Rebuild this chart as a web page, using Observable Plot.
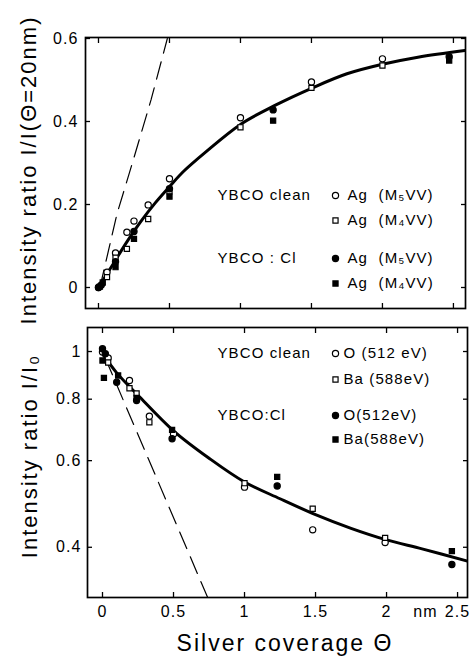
<!DOCTYPE html>
<html><head><meta charset="utf-8">
<script src="https://cdn.jsdelivr.net/npm/d3@7"></script>
<script src="https://cdn.jsdelivr.net/npm/@observablehq/plot@0.6"></script>
<style>
html,body{margin:0;padding:0;background:#fff;}
#chart{position:relative;width:470px;height:656px;font-family:"Liberation Sans",Arial,sans-serif;color:#000;background:#fff;overflow:hidden;}
#chart svg{position:absolute;left:0;overflow:visible;}
#chart svg text{letter-spacing:1.1px;}
.lab{position:absolute;white-space:nowrap;font-size:22px;letter-spacing:2px;line-height:1;transform:translate(-50%,-50%) rotate(-90deg);}
.xlab{position:absolute;white-space:nowrap;font-size:23px;letter-spacing:2px;line-height:1;transform:translate(-50%,-50%);}
</style></head><body><div id="chart"></div>
<script>
// ---- tick values ----
const xTicks = [0, 0.5, 1, 1.5, 2, 2.5];
const topYTicks = [0, 0.2, 0.4, 0.6];
const botYTicks = [0.4, 0.6, 0.8, 1];
const xUnit = ["nm"];

// ---- top panel: Ag Auger intensity ratio I/I(θ=20nm) ----
const agCleanM5 = [[0,0],[0.06,0.037],[0.12,0.083],[0.2,0.133],[0.25,0.16],[0.35,0.199],[0.5,0.262],[1.0,0.409],[1.5,0.495],[2.0,0.551]];
const agCleanM4 = [[0.06,0.025],[0.12,0.072],[0.2,0.093],[0.35,0.165],[0.5,0.232],[1.0,0.386],[1.5,0.481],[2.0,0.535]];
const agClM5 = [[0,0],[0.02,0.006],[0.12,0.062],[0.25,0.135],[0.5,0.238],[1.23,0.428],[2.47,0.556]];
const agClM4 = [[0.01,0.002],[0.03,0.012],[0.12,0.049],[0.25,0.117],[0.5,0.219],[1.23,0.402],[2.47,0.547]];
const agFit = [[0,0],[0.1,0.055],[0.2,0.11],[0.3,0.16],[0.4,0.204],[0.5,0.243],[0.6,0.28],[0.75,0.325],[1.0,0.393],[1.25,0.44],[1.5,0.48],[1.75,0.515],[2.0,0.538],[2.25,0.555],[2.58,0.571]];
const agDashed = [[0.01,0],[0.13,0.177],[0.25,0.313],[0.37,0.452],[0.485,0.6]];
const topGroups = ["YBCO clean", "YBCO : Cl"];
const topLabels = ["Ag  (M₅VV)", "Ag  (M₄VV)", "Ag  (M₅VV)", "Ag  (M₄VV)"];

// ---- bottom panel: substrate intensity ratio I/I0 ----
const oClean = [[0,0.998],[0.04,0.97],[0.19,0.873],[0.33,0.739],[0.5,0.68],[1.0,0.53],[1.48,0.434],[1.99,0.409]];
const baClean = [[0.04,0.95],[0.19,0.842],[0.24,0.822],[0.33,0.718],[1.0,0.54],[1.48,0.479],[1.99,0.418]];
const oCl = [[0,1.013],[0.02,0.99],[0.1,0.866],[0.24,0.795],[0.49,0.665],[1.23,0.533],[2.46,0.369]];
const baCl = [[0,0.959],[0.01,0.884],[0.11,0.894],[0.24,0.805],[0.49,0.693],[1.23,0.556],[2.46,0.393]];
const subFit = [[0,0.99],[0.1,0.905],[0.25,0.815],[0.5,0.69],[0.75,0.607],[1.0,0.543],[1.25,0.502],[1.5,0.466],[1.75,0.437],[2.0,0.414],[2.25,0.397],[2.57,0.375]];
const subDashed = [[0.02,0.969],[0.741,0.316]];
const botGroups = ["YBCO clean", "YBCO:Cl"];
const botLabels = ["O (512 eV)", "Ba (588eV)", "O(512eV)", "Ba(588eV)"];

const symbols = ["circle", "square", "circle", "square"];
const filled = [false, false, true, true];

const chart = document.getElementById("chart");

function pts(data, i) {
  return Plot.dot(data, {x: d => d[0], y: d => d[1], symbol: symbols[i], r: symbols[i] === "square" ? 2.9 : 3.1,
    fill: filled[i] ? "black" : "white", stroke: "black", strokeWidth: 1.2});
}
function frameAxes(yTicks, tickPad) {
  const fmt = d => String(d);
  return [
    Plot.axisX(xTicks, {anchor: "bottom", tickSize: -5, fill: "none", strokeWidth: 1.3, label: null}),
    Plot.axisX(xTicks, {anchor: "top", tickSize: -5, fill: "none", strokeWidth: 1.3, label: null}),
    Plot.axisY(yTicks, {anchor: "left", tickSize: -5, fill: "none", strokeWidth: 1.3, label: null}),
    Plot.axisY(yTicks, {anchor: "right", tickSize: -5, fill: "none", strokeWidth: 1.3, label: null}),
    Plot.axisY(yTicks, {anchor: "left", tickSize: 0, tickPadding: tickPad, tickFormat: fmt, fontSize: 16, label: null}),
    Plot.frame({stroke: "black", strokeWidth: 1.7})
  ];
}
function legend(groups, labels, rowDy, groupDx, symDx, textDx) {
  const marks = [];
  groups.forEach((g, k) => marks.push(Plot.text([g], {text: d => d, frameAnchor: "top-left", dx: groupDx, dy: rowDy[k * 2], textAnchor: "start", lineAnchor: "middle", fontSize: 15})));
  labels.forEach((t, i) => {
    marks.push(Plot.dot([t], {frameAnchor: "top-left", dx: symDx, dy: rowDy[i], symbol: symbols[i], r: symbols[i] === "square" ? 2.9 : 3.1,
      fill: filled[i] ? "black" : "white", stroke: "black", strokeWidth: 1.2}));
    marks.push(Plot.text([t], {text: d => d, frameAnchor: "top-left", dx: textDx, dy: rowDy[i], textAnchor: "start", lineAnchor: "middle", fontSize: 15}));
  });
  return marks;
}

const style = {fontFamily: "'Liberation Sans', Arial, sans-serif", fontSize: "16px", color: "black", background: "transparent", overflow: "visible"};

const topPlot = Plot.plot({
  width: 470, height: 320,
  marginLeft: 85, marginRight: 5, marginTop: 37, marginBottom: 12,
  style,
  x: {domain: [-0.0915, 2.585], axis: null},
  y: {domain: [-0.0506, 0.6024], axis: null},
  marks: [
    ...frameAxes(topYTicks, 7),
    Plot.line(agDashed, {x: d => d[0], y: d => d[1], stroke: "black", strokeWidth: 1.2, strokeDasharray: "18,9", clip: true}),
    Plot.line(agFit, {x: d => d[0], y: d => d[1], stroke: "black", strokeWidth: 3, curve: "catmull-rom", clip: true}),
    pts(agCleanM5, 0), pts(agCleanM4, 1), pts(agClM5, 2), pts(agClM4, 3),
    ...legend(topGroups, topLabels, [158, 183, 221, 246], 132, 250, 262)
  ]
});
topPlot.style.top = "0px";
chart.appendChild(topPlot);

const botPlot = Plot.plot({
  width: 470, height: 336,
  marginLeft: 87, marginRight: 3, marginTop: 7, marginBottom: 59,
  style,
  x: {domain: [-0.1056, 2.570], axis: null},
  y: {type: "log", domain: [0.3162, 1.119], axis: null},
  marks: [
    ...frameAxes(botYTicks, 6),
    Plot.axisX(xTicks, {anchor: "bottom", tickSize: 0, tickPadding: 8, tickFormat: d => String(d), fontSize: 16, label: null}),
    Plot.text(xUnit, {text: d => d, x: () => 2.5, frameAnchor: "bottom", dx: -32, dy: 8, lineAnchor: "top", fontSize: 16}),
    Plot.line(subDashed, {x: d => d[0], y: d => d[1], stroke: "black", strokeWidth: 1.2, strokeDasharray: "18,9", clip: true}),
    Plot.line(subFit, {x: d => d[0], y: d => d[1], stroke: "black", strokeWidth: 3, curve: "catmull-rom", clip: true}),
    pts(oClean, 0), pts(baClean, 1), pts(oCl, 2), pts(baCl, 3),
    ...legend(botGroups, botLabels, [26, 52, 88, 112], 130, 248, 256)
  ]
});
botPlot.style.top = "320px";
chart.appendChild(botPlot);

function addLabel(cls, text, x, y) {
  const d = document.createElement("div");
  d.className = cls; d.textContent = text;
  d.style.left = x + "px"; d.style.top = y + "px";
  chart.appendChild(d);
}
addLabel("lab", "Intensity ratio I/I(Θ=20nm)", 29, 170);
addLabel("lab", "Intensity ratio I/I₀", 30, 456);
addLabel("xlab", "Silver coverage Θ", 285, 643);
</script>
</body></html>
